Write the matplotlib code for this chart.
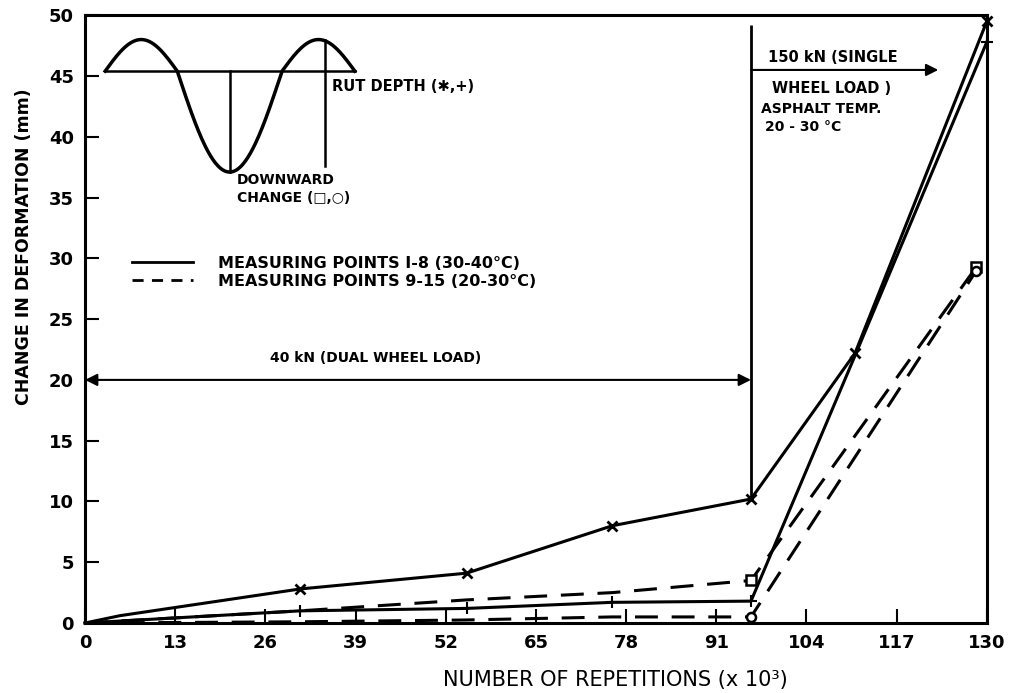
import numpy as np
import matplotlib.pyplot as plt
from matplotlib.lines import Line2D

plt.rcParams['font.family'] = ['DejaVu Sans']
plt.rcParams['font.weight'] = 'bold'

# repetitions (x10^3) and change in deformation (mm)
reps_rut_hot = [0, 5, 31, 55, 76, 96, 111, 130]
rut_hot = [0, 0.6, 2.8, 4.1, 8.0, 10.2, 22.2, 49.5]

reps_rut_cool = [0, 31, 55, 76, 96, 111, 130]
rut_cool = [0, 1.0, 1.2, 1.7, 1.8, 22.0, 47.8]

reps_down_a = [0, 31, 55, 76, 96, 128.5]
down_a = [0, 1.0, 1.9, 2.5, 3.5, 29.3]

reps_down_b = [0, 31, 55, 76, 96, 128.5]
down_b = [0, 0.1, 0.25, 0.5, 0.5, 29.0]

load_change = 96
xticks = np.arange(0, 131, 13)
yticks = np.arange(0, 51, 5)

fig = plt.figure(figsize=(10.11, 6.93), dpi=100)
ax = fig.add_axes([0.0841, 0.101, 0.892, 0.877])

lw = 2.2
ax.plot(reps_rut_hot, rut_hot, color='k', lw=lw, marker='x', ms=7, mew=2,
        markevery=[2, 3, 4, 5, 6, 7], clip_on=False)
ax.plot(reps_rut_cool, rut_cool, color='k', lw=lw, marker='+', ms=9, mew=1.5,
        markevery=[1, 2, 3, 4, 6], clip_on=False)
l3, = ax.plot(reps_down_a, down_a, color='k', lw=lw, marker='s', ms=6.5, mfc='white', mew=1.8,
              markevery=[4, 5], clip_on=False)
l4, = ax.plot(reps_down_b, down_b, color='k', lw=lw, marker='o', ms=6.5, mfc='white', mew=1.8,
              markevery=[4, 5], clip_on=False)
l3.set_dashes([7.5, 4.5])
l4.set_dashes([7.5, 4.5])

# load change marker and arrows
ax.vlines(load_change, 10.2, 49.2, color='k', lw=2)
ax.annotate('', xy=(0, 20), xytext=(load_change, 20),
            arrowprops=dict(arrowstyle='<|-|>', lw=1.5, color='k', mutation_scale=18,
                            shrinkA=0, shrinkB=0))
ax.annotate('', xy=(123, 45.5), xytext=(load_change, 45.5),
            arrowprops=dict(arrowstyle='-|>', lw=1.5, color='k', mutation_scale=18,
                            shrinkA=0, shrinkB=0))
ax.text(41.9, 21.8, '40 kN (DUAL WHEEL LOAD)', fontsize=10, ha='center', va='center')
ax.text(98.4, 45.9, '150 kN (SINGLE', fontsize=10.5, ha='left', va='bottom')
ax.text(99.1, 44.0, 'WHEEL LOAD )', fontsize=10.5, ha='left', va='center')
ax.text(97.5, 42.3, 'ASPHALT TEMP.', fontsize=10, ha='left', va='center')
ax.text(98.0, 40.8, '20 - 30 °C', fontsize=10, ha='left', va='center')

# rut profile sketch
knots_x = [2.9, 13.3, 28.4, 38.9]
base = 45.4
xs = np.linspace(knots_x[0], knots_x[-1], 300)
theta = np.interp(xs, knots_x, [0, np.pi, 2 * np.pi, 3 * np.pi])
s = np.sin(theta)
ys = base + np.where(s > 0, 2.6 * s, 8.3 * s)
ax.plot(xs, ys, color='k', lw=2.5)
ax.plot([knots_x[0], knots_x[-1]], [base, base], color='k', lw=1.8)
ax.plot([20.9, 20.9], [37.1, base], color='k', lw=1.8)
ax.plot([34.6, 34.6], [37.6, 48.0], color='k', lw=1.8)
ax.text(35.6, 44.1, 'RUT DEPTH (✱,+)', fontsize=10.5, ha='left', va='center')
ax.text(21.9, 37.0, 'DOWNWARD\nCHANGE (□,○)', fontsize=10, ha='left', va='top',
        linespacing=1.3)

handles = [Line2D([], [], color='k', lw=2),
           Line2D([], [], color='k', lw=2, ls=(0, (4, 3)))]
ax.legend(handles, ['MEASURING POINTS I-8 (30-40°C)', 'MEASURING POINTS 9-15 (20-30°C)'],
          loc='center left', bbox_to_anchor=(0.052, 0.577), frameon=False,
          borderaxespad=0, borderpad=0, handlelength=3.8, handletextpad=1.6,
          labelspacing=0.22, prop={'size': 11.5, 'weight': 'bold'})

ax.set_xlim(0, 130)
ax.set_ylim(0, 50)
ax.set_xticks(xticks)
ax.set_yticks(yticks)
ax.tick_params(direction='in', length=10, width=1.5, labelsize=13, pad=8)
for sp in ax.spines.values():
    sp.set_linewidth(2.2)

ax.set_xlabel('NUMBER OF REPETITIONS (x 10³)', fontsize=15, fontweight='normal')
ax.xaxis.set_label_coords(0.588, -0.077)
ax.set_ylabel('CHANGE IN DEFORMATION (mm)', fontsize=12.5, fontweight='bold')
ax.yaxis.set_label_coords(-0.058, 0.62)

fig.savefig('out.png', dpi=100)
